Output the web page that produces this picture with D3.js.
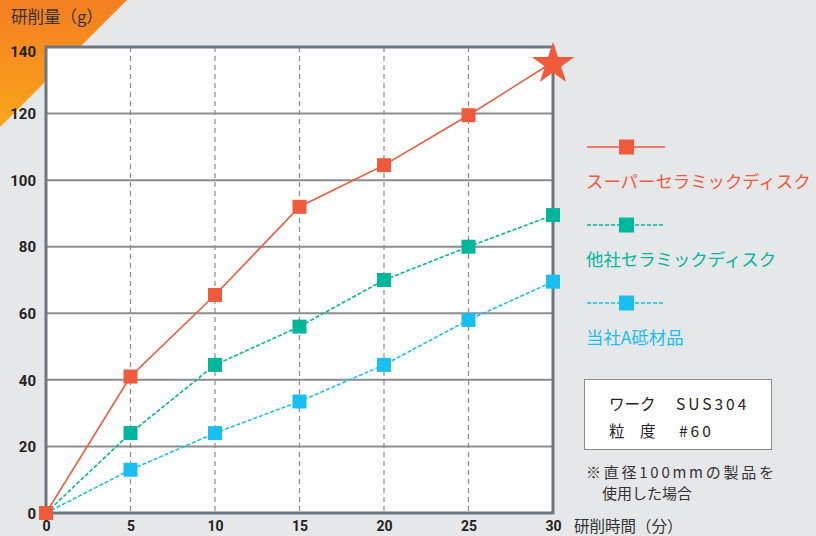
<!DOCTYPE html>
<html><head><meta charset="utf-8">
<script src="https://cdn.jsdelivr.net/npm/d3@7"></script>
<style>
html,body{margin:0;padding:0;background:#e6e7e9;}
svg{display:block;}
</style></head>
<body>
<svg id="chart" width="816" height="536"></svg>
<script>
const xTicks = [0, 5, 10, 15, 20, 25, 30];
const yTicks = [0, 20, 40, 60, 80, 100, 120, 140];
const times = [0, 5, 10, 15, 20, 25, 30];
const superCeramic = [0, 41, 65.5, 92, 104.5, 119.5, 135.5];
const otherCeramic = [0, 24, 44.5, 56, 70, 80, 89.5];
const ourA = [0, 13, 24, 33.5, 44.5, 58, 69.5];
const seriesNames = ["スーパーセラミックディスク", "他社セラミックディスク", "当社A砥材品"];
const yTitle = "研削量（g）";
const xTitle = "研削時間（分）";
const boxLines = [["ワーク", "SUS304"], ["粒　度", "#60"]];
const noteLines = ["※直径100mmの製品を", "使用した場合"];

const colors = ["#f05a3c", "#00b69b", "#18bff0"];
const jp = "'Noto Sans CJK JP', 'Noto Sans', sans-serif";
const num = "Roboto, 'DejaVu Sans', sans-serif";

const svg = d3.select("#chart");
const defs = svg.append("defs");
const grad = defs.append("linearGradient").attr("id", "og").attr("x1", 0).attr("y1", 0).attr("x2", 0).attr("y2", 1);
grad.append("stop").attr("offset", "0%").attr("stop-color", "#f47f22");
grad.append("stop").attr("offset", "100%").attr("stop-color", "#f9a51a");
svg.append("path").attr("d", "M0,0L127,0L0,127Z").attr("fill", "url(#og)");

const L = 46, R = 553, T = 47, B = 513;
const x = d3.scaleLinear().domain([0, 30]).range([L, R]);
const y = d3.scaleLinear().domain([0, 140]).range([B, T]);

svg.append("rect").attr("x", L).attr("y", T).attr("width", R - L).attr("height", B - T).attr("fill", "#fff");

// vertical dashed grid
svg.append("g").selectAll("line").data(xTicks.filter(d => d > 0 && d < 30)).join("line")
  .attr("x1", d => x(d)).attr("x2", d => x(d)).attr("y1", T).attr("y2", B)
  .attr("stroke", "#8a8a8a").attr("stroke-width", 1.2).attr("stroke-dasharray", "5,4");
// horizontal grid
svg.append("g").selectAll("line").data(yTicks.filter(d => d > 0 && d < 140)).join("line")
  .attr("x1", L).attr("x2", R).attr("y1", d => y(d)).attr("y2", d => y(d))
  .attr("stroke", "#8c8c8c").attr("stroke-width", 2);

// frame
svg.append("rect").attr("x", L).attr("y", T).attr("width", R - L).attr("height", B - T)
  .attr("fill", "none").attr("stroke", "#6c7780").attr("stroke-width", 3);

// axis labels via d3 axes
const yAxis = svg.append("g").attr("transform", `translate(${L - 8},0)`)
  .call(d3.axisLeft(y).tickValues(yTicks).tickSize(0).tickPadding(2));
yAxis.select(".domain").remove();
yAxis.selectAll("text").attr("font-family", num).attr("font-weight", "bold").attr("font-size", 15)
  .attr("fill", "#222").attr("dy", "0.35em");
yAxis.select(".tick:last-of-type text").attr("dy", "0.6em");

const xAxis = svg.append("g").attr("transform", `translate(0,${B})`)
  .call(d3.axisBottom(x).tickValues(xTicks).tickSize(0).tickPadding(8));
xAxis.select(".domain").remove();
xAxis.selectAll("text").attr("font-family", num).attr("font-weight", "bold").attr("font-size", 14)
  .attr("fill", "#222");

svg.append("text").attr("x", 11).attr("y", 23).text(yTitle)
  .attr("font-family", jp).attr("font-size", 16.5).attr("fill", "#333");
svg.append("text").attr("x", 574).attr("y", 532).text(xTitle)
  .attr("font-family", jp).attr("font-size", 15.5).attr("fill", "#333");

// series
const allSeries = [superCeramic, otherCeramic, ourA];
const line = d3.line().x((d, i) => x(times[i])).y(d => y(d));
[2, 1, 0].forEach(si => {
  const vals = allSeries[si];
  const g = svg.append("g");
  g.append("path").attr("d", line(vals)).attr("fill", "none").attr("stroke", colors[si])
    .attr("stroke-width", 1.6).attr("stroke-dasharray", si === 0 ? null : "4,2");
  const pts = vals.map((v, i) => [times[i], v]).filter((d, i) => !(si === 0 && i === vals.length - 1));
  g.selectAll("rect").data(pts).join("rect")
    .attr("x", d => x(d[0]) - 7).attr("y", d => y(d[1]) - 7).attr("width", 14).attr("height", 14)
    .attr("fill", colors[si]);
});
// star for last super point
const star = d3.symbol().type(d3.symbolStar).size(560);
svg.append("path").attr("d", star()).attr("fill", colors[0])
  .attr("transform", `translate(${x(times[6])},${y(superCeramic[6]) + 2})`);

// legend
const legY = [147, 225, 303];
seriesNames.forEach((name, i) => {
  const g = svg.append("g");
  g.append("line").attr("x1", 587).attr("x2", 665).attr("y1", legY[i]).attr("y2", legY[i])
    .attr("stroke", colors[i]).attr("stroke-width", 1.6).attr("stroke-dasharray", i === 0 ? null : "4,2");
  g.append("rect").attr("x", 619).attr("y", legY[i] - 7.5).attr("width", 15).attr("height", 15).attr("fill", colors[i]);
  g.append("text").attr("x", 586).attr("y", legY[i] + 41).text(name)
    .attr("font-family", jp).attr("font-size", 17.4).attr("fill", colors[i]);
});

// info box
svg.append("rect").attr("x", 584.5).attr("y", 379.5).attr("width", 187).attr("height", 70)
  .attr("fill", "#fff").attr("stroke", "#8a8a8a").attr("stroke-width", 1);
boxLines.forEach((l, i) => {
  svg.append("text").attr("x", 609).attr("y", 410 + i * 27).text(l[0])
    .attr("font-family", jp).attr("font-size", 15.5).attr("fill", "#222");
  svg.append("text").attr("x", i === 0 ? 676 : 679).attr("y", 410 + i * 27).text(l[1])
    .attr("font-family", jp).attr("font-size", 15.5).attr("letter-spacing", "3px").attr("fill", "#222");
});
noteLines.forEach((t, i) => {
  const tx = svg.append("text").attr("x", i === 0 ? 586 : 602).attr("y", 478 + i * 21).text(t)
    .attr("font-family", jp).attr("font-size", 15).attr("fill", "#333");
  if (i === 0) tx.attr("textLength", 188).attr("lengthAdjust", "spacing");
});
</script>
</body></html>
